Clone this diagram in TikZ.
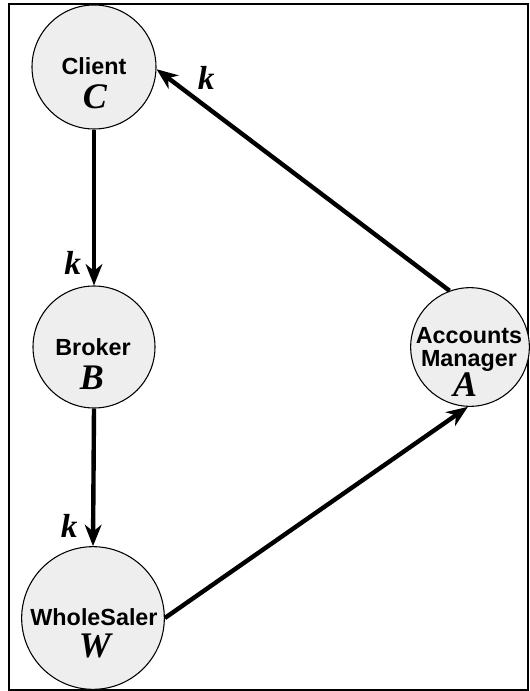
\documentclass[tikz,border=0pt]{standalone}
\usepackage{fontspec}
\setmainfont{Liberation Serif}
\setsansfont{Liberation Sans}
\usetikzlibrary{arrows.meta}

\begin{document}
\begin{tikzpicture}[x=0.75pt,y=-0.75pt,
  actor/.style={circle,draw=black,line width=0.8pt,fill=gray!13,inner sep=0pt},
  role/.style={font=\sffamily\bfseries\fontsize{17.5}{18}\selectfont,inner sep=0pt,anchor=base},
  sym/.style={font=\bfseries\itshape\fontsize{27}{28}\selectfont,inner sep=0pt,anchor=base},
  flow/.style={line width=3.3pt,-{Stealth[length=16pt,width=12.5pt,inset=5pt]}},
  mult/.style={font=\bfseries\itshape\fontsize{25}{26}\selectfont,inner sep=0pt}]
\useasboundingbox (0,0) rectangle (529,691);
\draw[line width=1.1pt] (9,4) rectangle (528,690);

% participants
\node[actor,minimum size=93pt]  (C) at (94,67)  {};
\node[actor,minimum size=91.5pt] (B) at (94,347) {};
\node[actor,minimum size=107pt] (W) at (93,618) {};
\node[actor,minimum size=89pt]  (A) at (470,347) {};

% names and symbols
\node[role] (Cn) at (94,75) {Client};
\node[sym]  (Cs) at (95,109) {C};
\node[role] (Bn) at (93,355) {Broker};
\node[sym]  (Bs) at (92,389) {B};
\node[role] (Wn) at (94,625) {WholeSaler};
\node[sym]  (Ws) at (95,657) {W};
\node[role] (An1) at (469,343) {Accounts};
\node[role] (An2) at (469,366) {Manager};
\node[sym]  (As) at (465,396) {A};

% flows
\draw[flow] (C.south) -- node[mult,pos=0.853,xshift=-16pt] (k1) {k} (B.north);
\draw[flow] (B.south) -- node[mult,pos=0.856,xshift=-18pt] (k2) {k} (W.north);
\draw[flow] (W.east) -- (A.-92);
\draw[flow] (A.110) -- node[mult,pos=0.83,yshift=22pt] (k3) {k} (C.-2);
\end{tikzpicture}
\end{document}
